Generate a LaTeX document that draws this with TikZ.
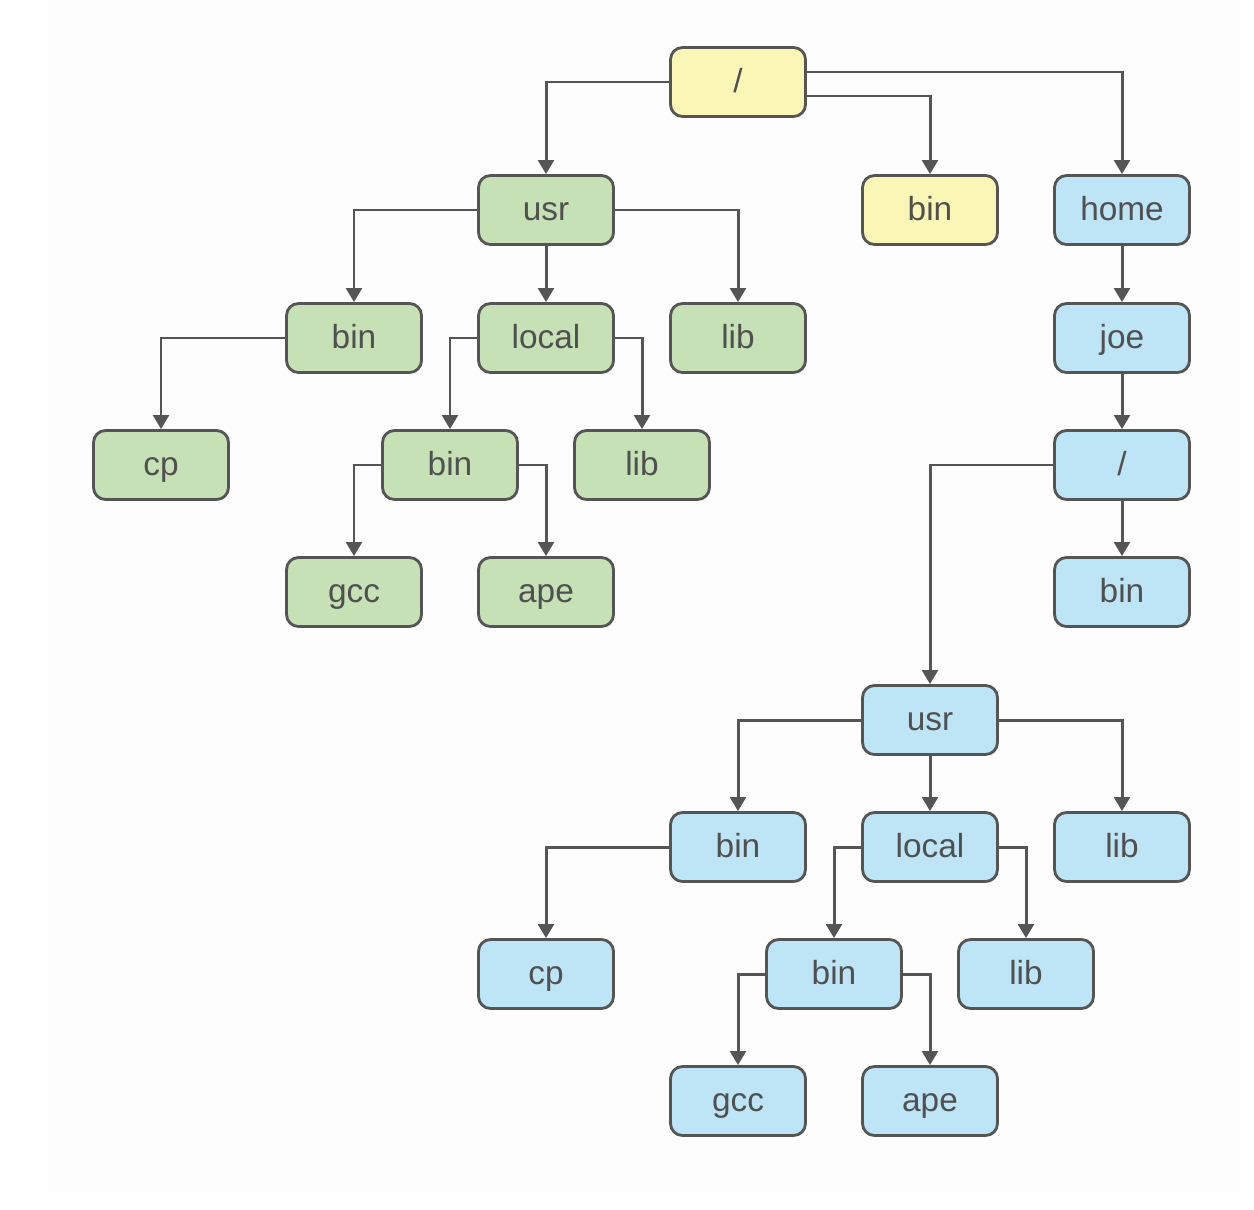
\documentclass[tikz,border=0pt]{standalone}
\usepackage{fontspec}
\setmainfont{Liberation Sans}
\usetikzlibrary{arrows.meta}

\definecolor{edgegray}{HTML}{555555}
\definecolor{textgray}{HTML}{505050}
\definecolor{dirgreen}{HTML}{C5E1B5}
\definecolor{diryellow}{HTML}{FAF6B6}
\definecolor{dirblue}{HTML}{BDE5F5}
\definecolor{paper}{HTML}{FDFDFD}

\begin{document}
\begin{tikzpicture}[x=0.02cm, y=-0.02cm,
    dirbox/.style={draw=edgegray, line width=1.6pt, rounded corners=0.24cm,
        minimum width=2.7cm, minimum height=1.38cm, inner sep=0pt,
        text height=14pt, text depth=2.6pt,
        text=textgray, font=\fontsize{19}{22}\selectfont},
    greenbox/.style={dirbox, fill=dirgreen},
    yellowbox/.style={dirbox, fill=diryellow},
    bluebox/.style={dirbox, fill=dirblue},
    arr/.style={-{Triangle[length=8pt, width=9pt]}, draw=edgegray, line width=1.7pt}]

    % Khung hình và nền
    \useasboundingbox (0,0) rectangle (1254,1210);
    \fill[paper] (48,0) rectangle (1240,1192);

    % 1. Thư mục gốc
    \node[yellowbox] (root) at (738,82) {/};
    \node[yellowbox] (rbin) at (930,210) {bin};
    \node[greenbox] (usr) at (546,210) {usr};
    \node[bluebox] (home) at (1122,210) {home};

    % 2. Cây /usr (màu xanh lá)
    \node[greenbox] (ubin) at (354,338) {bin};
    \node[greenbox] (ulocal) at (546,338) {local};
    \node[greenbox] (ulib) at (738,338) {lib};
    \node[greenbox] (ucp) at (161,465) {cp};
    \node[greenbox] (lbin) at (450,465) {bin};
    \node[greenbox] (llib) at (642,465) {lib};
    \node[greenbox] (lgcc) at (354,592) {gcc};
    \node[greenbox] (lape) at (546,592) {ape};

    % 3. Cây /home/joe (màu xanh dương)
    \node[bluebox] (joe) at (1122,338) {joe};
    \node[bluebox] (jroot) at (1122,465) {/};
    \node[bluebox] (jbin) at (1122,592) {bin};
    \node[bluebox] (jusr) at (930,720) {usr};
    \node[bluebox] (jubin) at (738,847) {bin};
    \node[bluebox] (julocal) at (930,847) {local};
    \node[bluebox] (julib) at (1122,847) {lib};
    \node[bluebox] (jucp) at (546,974) {cp};
    \node[bluebox] (jlbin) at (834,974) {bin};
    \node[bluebox] (jllib) at (1026,974) {lib};
    \node[bluebox] (jlgcc) at (738,1101) {gcc};
    \node[bluebox] (jlape) at (930,1101) {ape};

    % 4. Các mũi tên
    \draw[arr] (root.west) -| (usr.north);
    \draw[arr] ([yshift=-0.28cm]root.east) -| (rbin.north);
    \draw[arr] ([yshift=0.2cm]root.east) -| (home.north);

    \draw[arr] (usr.west) -| (ubin.north);
    \draw[arr] (usr.south) -- (ulocal.north);
    \draw[arr] (usr.east) -| (ulib.north);
    \draw[arr] (ubin.west) -| (ucp.north);
    \draw[arr] (ulocal.west) -| (lbin.north);
    \draw[arr] (ulocal.east) -| (llib.north);
    \draw[arr] (lbin.west) -| (lgcc.north);
    \draw[arr] (lbin.east) -| (lape.north);

    \draw[arr] (home.south) -- (joe.north);
    \draw[arr] (joe.south) -- (jroot.north);
    \draw[arr] (jroot.south) -- (jbin.north);
    \draw[arr] (jroot.west) -| (jusr.north);
    \draw[arr] (jusr.west) -| (jubin.north);
    \draw[arr] (jusr.south) -- (julocal.north);
    \draw[arr] (jusr.east) -| (julib.north);
    \draw[arr] (jubin.west) -| (jucp.north);
    \draw[arr] (julocal.west) -| (jlbin.north);
    \draw[arr] (julocal.east) -| (jllib.north);
    \draw[arr] (jlbin.west) -| (jlgcc.north);
    \draw[arr] (jlbin.east) -| (jlape.north);

\end{tikzpicture}
\end{document}
